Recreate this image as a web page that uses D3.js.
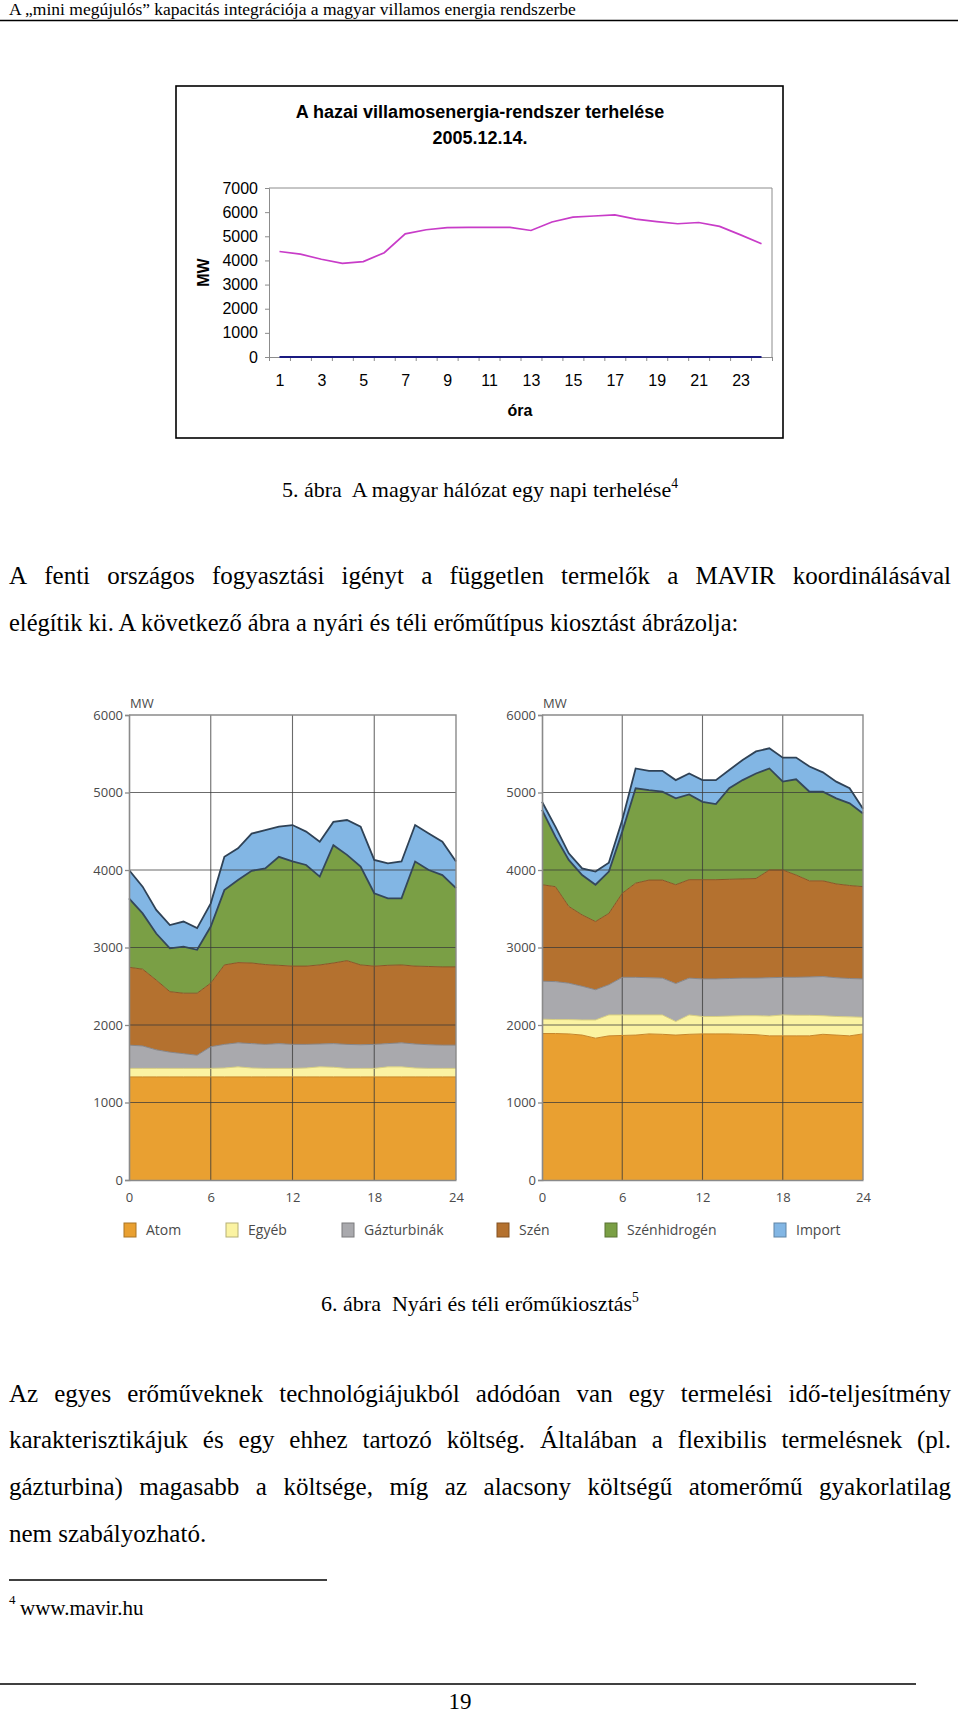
<!DOCTYPE html>
<html><head><meta charset="utf-8">
<script src="https://cdn.jsdelivr.net/npm/d3@7"></script>
<style>body{margin:0;background:#fff}svg{display:block}text{white-space:pre}</style>
</head><body>
<svg id="page" width="960" height="1714"></svg>
<script>
// ---------- DATA ----------
// Figure 5: daily load 2005.12.14 (MW), hours 1..24
const loadHours = d3.range(1, 25);
const loadMW = [4370,4260,4050,3880,3950,4320,5100,5270,5360,5365,5365,5365,5240,5590,5790,5840,5890,5710,5610,5520,5570,5410,5060,4690];
const loadZero = [0,0,0,0,0,0,0,0,0,0,0,0,0,0,0,0,0,0,0,0,0,0,0,0];
const loadYTicks = [0,1000,2000,3000,4000,5000,6000,7000];
const loadXLabels = [1,3,5,7,9,11,13,15,17,19,21,23];

// Figure 6: summer (left) and winter (right) dispatch, hours 0..24, MW per layer
const hours = d3.range(0, 25);
const layerKeys = ["Atom","Egyéb","Gázturbinák","Szén","Szénhidrogén","Import"];
const layerColors = ["#E9A031","#FBF3A2","#A9A9AD","#B4712F","#7A9F45","#82B6E4"];
const layerEdges  = ["#C7862A","#D8CF80","#86868A","#8A5526","#34475A","#2F4256"];

const summerAtom   = [1330,1330,1330,1330,1330,1330,1330,1330,1330,1330,1330,1330,1330,1330,1330,1330,1330,1330,1330,1330,1330,1330,1330,1330,1330];
const summerEgyeb  = [110,110,110,110,110,110,110,115,130,115,110,110,110,115,130,125,110,110,110,130,130,115,110,110,110];
const summerGas    = [300,290,240,210,190,170,280,305,310,315,310,320,310,305,295,305,310,305,310,300,310,310,305,300,300];
const summerSzen   = [1005,990,900,780,780,800,820,1025,1035,1040,1030,1010,1010,1010,1020,1040,1080,1030,1010,1010,1005,1005,1010,1010,1010];
const summerSzh    = [890,720,600,560,600,560,730,965,1065,1190,1240,1400,1350,1305,1140,1520,1365,1270,940,865,860,1350,1245,1185,1015];
const summerImport = [365,345,305,300,325,280,300,430,410,480,495,390,470,430,450,300,450,515,430,450,475,470,470,430,345];

const winterAtom   = [1890,1890,1885,1870,1830,1860,1865,1870,1885,1880,1870,1880,1885,1885,1885,1880,1875,1860,1860,1860,1860,1880,1870,1860,1885];
const winterEgyeb  = [185,180,185,195,235,270,265,260,245,250,175,250,225,225,230,240,245,255,270,265,265,240,240,245,215];
const winterGas    = [490,490,470,435,390,390,485,485,480,475,490,475,485,485,485,485,485,495,485,490,495,505,500,495,495];
const winterSzen   = [1245,1225,990,920,880,920,1085,1215,1260,1265,1275,1270,1280,1280,1280,1280,1285,1390,1385,1320,1240,1235,1210,1200,1190];
const winterSzh    = [965,645,600,515,475,540,795,1225,1160,1140,1115,1100,1005,975,1175,1275,1355,1310,1140,1235,1150,1150,1105,1060,945];
const winterImport = [105,130,85,85,170,115,150,255,250,270,235,270,280,310,235,260,285,260,310,280,325,250,215,195,60];

const stackYTicks = [0,1000,2000,3000,4000,5000,6000];
const stackXTicks = [0,6,12,18,24];

// ---------- TEXT ----------
const serif = "'Liberation Serif','Times New Roman',serif";
const sans = "'Liberation Sans',Arial,sans-serif";
const chartSans = "'Open Sans','Noto Sans',sans-serif";
const svg = d3.select("#page");

// header
svg.append("text").attr("x", 9).attr("y", 15).attr("font-family", serif).attr("font-size", 17.5)
  .text("A \u201Emini megújulós\u201D kapacitás integrációja a magyar villamos energia rendszerbe");
svg.append("line").attr("x1", 0).attr("x2", 958).attr("y1", 20.5).attr("y2", 20.5).attr("stroke", "#000").attr("stroke-width", 1.5);

function justifyLine(text, y, x0, x1, size) {
  const words = text.split(" ");
  const nodes = words.map(w => svg.append("text").attr("y", y).attr("font-family", serif).attr("font-size", size).text(w));
  const widths = nodes.map(n => n.node().getComputedTextLength());
  const gap = (x1 - x0 - d3.sum(widths)) / (words.length - 1);
  let x = x0;
  nodes.forEach((n, i) => { n.attr("x", x); x += widths[i] + gap; });
}
function plainLine(text, y, x0, size) {
  svg.append("text").attr("x", x0).attr("y", y).attr("font-family", serif).attr("font-size", size).text(text);
}
function caption(text, sup, y, cx, size) {
  const t = svg.append("text").attr("x", cx).attr("y", y).attr("font-family", serif).attr("font-size", size).attr("text-anchor", "middle");
  t.append("tspan").text(text);
  t.append("tspan").attr("font-size", size * 0.62).attr("dy", -size * 0.42).text(sup);
}

caption("5. ábra  A magyar hálózat egy napi terhelése", "4", 497, 480, 22);
justifyLine("A fenti országos fogyasztási igényt a független termelők a MAVIR koordinálásával", 584, 9, 951, 25);
plainLine("elégítik ki. A következő ábra a nyári és téli erőműtípus kiosztást ábrázolja:", 631, 9, 24.5);

caption("6. ábra  Nyári és téli erőműkiosztás", "5", 1311, 480, 22);
justifyLine("Az egyes erőműveknek technológiájukból adódóan van egy termelési idő-teljesítmény", 1402, 9, 951, 25);
justifyLine("karakterisztikájuk és egy ehhez tartozó költség. Általában a flexibilis termelésnek (pl.", 1448, 9, 951, 25);
justifyLine("gázturbina) magasabb a költsége, míg az alacsony költségű atomerőmű gyakorlatilag", 1495, 9, 951, 25);
plainLine("nem szabályozható.", 1542, 9, 25);

svg.append("line").attr("x1", 9).attr("x2", 327).attr("y1", 1580).attr("y2", 1580).attr("stroke", "#000").attr("stroke-width", 1.3);
svg.append("text").attr("x", 9).attr("y", 1604).attr("font-family", serif).attr("font-size", 13).text("4");
svg.append("text").attr("x", 20).attr("y", 1615).attr("font-family", serif).attr("font-size", 21).text("www.mavir.hu");
svg.append("line").attr("x1", 0).attr("x2", 916).attr("y1", 1684).attr("y2", 1684).attr("stroke", "#000").attr("stroke-width", 1.3);
svg.append("text").attr("x", 460).attr("y", 1709).attr("font-family", serif).attr("font-size", 23).attr("text-anchor", "middle").text("19");

// ---------- FIGURE 5: load line chart ----------
{
  const g = svg.append("g");
  g.append("rect").attr("x", 176).attr("y", 86).attr("width", 607).attr("height", 352)
    .attr("fill", "none").attr("stroke", "#000").attr("stroke-width", 1.6);
  g.append("text").attr("x", 480).attr("y", 118).attr("text-anchor", "middle").attr("font-family", sans)
    .attr("font-weight", "bold").attr("font-size", 18).text("A hazai villamosenergia-rendszer terhelése");
  g.append("text").attr("x", 480).attr("y", 144).attr("text-anchor", "middle").attr("font-family", sans)
    .attr("font-weight", "bold").attr("font-size", 18).text("2005.12.14.");

  const x = d3.scaleLinear().domain([0.5, 24.5]).range([269, 772]);
  const y = d3.scaleLinear().domain([0, 7000]).range([357, 188]);

  // plot frame (top & right)
  g.append("path").attr("d", `M${x(0.5)},${y(7000)}H${x(24.5)}V${y(0)}`).attr("fill", "none").attr("stroke", "#8c8c8c").attr("stroke-width", 1);

  const yAxis = g.append("g").attr("transform", `translate(${x(0.5)},0)`)
    .call(d3.axisLeft(y).tickValues(loadYTicks).tickSize(4).tickPadding(7).tickFormat(d3.format("d")));
  yAxis.select(".domain").attr("stroke", "#8c8c8c");
  yAxis.selectAll(".tick line").attr("stroke", "#8c8c8c");
  yAxis.selectAll("text").attr("font-family", sans).attr("font-size", 16).attr("fill", "#000");

  const xTicks = g.append("g").attr("transform", `translate(0,${y(0)})`)
    .call(d3.axisBottom(x).tickValues(d3.range(0.5, 25, 1)).tickSize(4).tickFormat(""));
  xTicks.select(".domain").attr("stroke", "#8c8c8c");
  xTicks.selectAll(".tick line").attr("stroke", "#8c8c8c");
  const xLab = g.append("g").attr("transform", `translate(0,${y(0)})`)
    .call(d3.axisBottom(x).tickValues(loadXLabels).tickSize(0).tickPadding(18).tickFormat(d3.format("d")));
  xLab.select(".domain").remove();
  xLab.selectAll("text").attr("font-family", sans).attr("font-size", 16).attr("fill", "#000");

  const line = d3.line().x((d, i) => x(loadHours[i])).y(d => y(d));
  g.append("path").datum(loadZero).attr("d", line).attr("fill", "none").attr("stroke", "#1a1a80").attr("stroke-width", 2.2);
  g.append("path").datum(loadMW).attr("d", line).attr("fill", "none").attr("stroke", "#C83CC8").attr("stroke-width", 1.7);

  g.append("text").attr("x", 520).attr("y", 416).attr("text-anchor", "middle").attr("font-family", sans)
    .attr("font-weight", "bold").attr("font-size", 16).text("óra");
  g.append("text").attr("transform", `translate(209,${(y(0) + y(7000)) / 2}) rotate(-90)`).attr("text-anchor", "middle")
    .attr("font-family", sans).attr("font-weight", "bold").attr("font-size", 16).text("MW");
}

// ---------- FIGURE 6: stacked areas ----------
function stackChart(x0, x1, layers) {
  const g = svg.append("g");
  const table = hours.map((h, i) => {
    const r = { hour: h };
    layerKeys.forEach((k, j) => { r[k] = layers[j][i]; });
    return r;
  });
  const stacked = d3.stack().keys(layerKeys)(table);
  const x = d3.scaleLinear().domain([0, 24]).range([x0, x1]);
  const y = d3.scaleLinear().domain([0, 6000]).range([1180, 715]);
  const area = d3.area().x(d => x(d.data.hour)).y0(d => y(d[0])).y1(d => y(d[1]));
  const top = d3.line().x(d => x(d.data.hour)).y(d => y(d[1]));

  g.selectAll(".layer").data(stacked).join("path").attr("d", area).attr("fill", (d, i) => layerColors[i]);

  // gridlines
  stackYTicks.filter(v => v > 0 && v < 6000).forEach(v =>
    g.append("line").attr("x1", x(0)).attr("x2", x(24)).attr("y1", y(v)).attr("y2", y(v)).attr("stroke", "#3a3a3a").attr("stroke-opacity", 0.75).attr("stroke-width", 1.1));
  stackXTicks.filter(v => v > 0 && v < 24).forEach(v =>
    g.append("line").attr("x1", x(v)).attr("x2", x(v)).attr("y1", y(0)).attr("y2", y(6000)).attr("stroke", "#3a3a3a").attr("stroke-opacity", 0.75).attr("stroke-width", 1.1));

  g.selectAll(".edge").data(stacked).join("path").attr("d", top).attr("fill", "none")
    .attr("stroke", (d, i) => layerEdges[i]).attr("stroke-width", (d, i) => i >= 4 ? 1.8 : 1);

  // frame
  g.append("path").attr("d", `M${x(0)},${y(6000)}H${x(24)}V${y(0)}`).attr("fill", "none").attr("stroke", "#8a8a8a").attr("stroke-width", 1.4);
  const ya = g.append("g").attr("transform", `translate(${x(0)},0)`)
    .call(d3.axisLeft(y).tickValues(stackYTicks).tickSize(4).tickPadding(2).tickFormat(d3.format("d")));
  ya.select(".domain").attr("stroke", "#8a8a8a").attr("stroke-width", 1.6);
  ya.selectAll(".tick line").attr("stroke", "#8a8a8a").attr("stroke-width", 1.3);
  ya.selectAll("text").attr("font-family", chartSans).attr("font-size", 13).attr("fill", "#4a4a4a");
  const xa = g.append("g").attr("transform", `translate(0,${y(0)})`)
    .call(d3.axisBottom(x).tickValues(stackXTicks).tickSize(0).tickPadding(13).tickFormat(d3.format("d")));
  xa.select(".domain").attr("stroke", "#8a8a8a").attr("stroke-width", 1.4);
  xa.selectAll("text").attr("font-family", chartSans).attr("font-size", 13).attr("fill", "#4a4a4a");
  g.append("text").attr("x", x(0) + 1).attr("y", 708).attr("font-family", chartSans).attr("font-size", 13).attr("fill", "#4a4a4a").text("MW");
}
stackChart(129, 456, [summerAtom, summerEgyeb, summerGas, summerSzen, summerSzh, summerImport]);
stackChart(542, 863, [winterAtom, winterEgyeb, winterGas, winterSzen, winterSzh, winterImport]);

// legend
const legendX = [124, 226, 342, 497, 605, 774];
const lg = svg.append("g").selectAll("g").data(layerKeys).join("g").attr("transform", (d, i) => `translate(${legendX[i]},1223)`);
lg.append("rect").attr("width", 12).attr("height", 14).attr("fill", (d, i) => layerColors[i])
  .attr("stroke", (d, i) => d3.color(layerColors[i]).darker(0.9)).attr("stroke-width", 1);
lg.append("text").attr("x", 22).attr("y", 12).attr("font-family", chartSans).attr("font-size", 14).attr("fill", "#4a4a4a").text(d => d);
</script>
</body></html>
